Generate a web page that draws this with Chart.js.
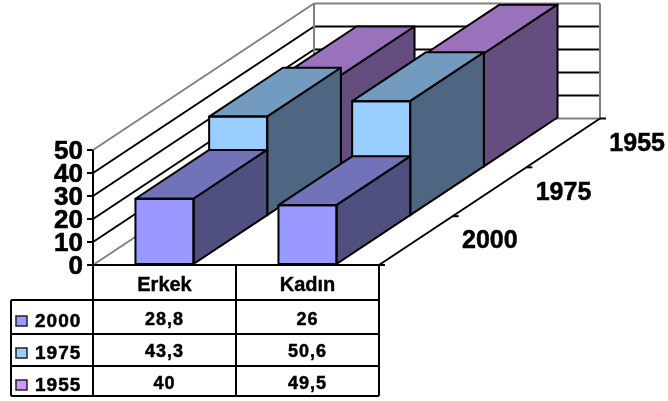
<!DOCTYPE html>
<html>
<head>
<meta charset="utf-8">
<style>
  html, body { margin: 0; padding: 0; background: #fff; }
  canvas { display: block; }
</style>
<script src="https://cdn.jsdelivr.net/npm/chart.js@4"></script>
</head>
<body>
<canvas id="chart" width="668" height="401"></canvas>
<script>
const categories = ["Erkek", "Kadın"];
const years = ["2000", "1975", "1955"];
const values2000 = [28.8, 26];
const values1975 = [43.3, 50.6];
const values1955 = [40, 49.5];
const yTicks = [0, 10, 20, 30, 40, 50];

const frontColors = ["#9999ff", "#99ccff", "#cc99ff"];
const topColors = ["#7272b9", "#729bbf", "#9a72bb"];
const sideColors = ["#4f4f80", "#4f6682", "#664d80"];

// depth of the floor, going back and to the right
const depthX = 221;
const depthY = -146.5;
const lineW = 2;
// table row bottoms, header first
const rowLines = [300, 334, 366, 396];
const rowText = [320, 352, 384];
const tableLeft = 11;

function line(ctx, x1, y1, x2, y2, color) {
  ctx.strokeStyle = color;
  ctx.beginPath();
  ctx.moveTo(x1, y1);
  ctx.lineTo(x2, y2);
  ctx.stroke();
}

function poly(ctx, pts, fill) {
  ctx.beginPath();
  pts.forEach((p, i) => (i ? ctx.lineTo(p[0], p[1]) : ctx.moveTo(p[0], p[1])));
  ctx.closePath();
  if (fill) {
    ctx.fillStyle = fill;
    ctx.fill();
  }
  ctx.strokeStyle = "#000";
  ctx.stroke();
}

// top and side faces sit behind the real bar, which is moved back by its series slot
function slot(index) {
  return [(depthX * index) / years.length, (depthY * index) / years.length];
}

function heavyText(ctx, text, x, y) {
  ctx.fillText(text, x, y);
  ctx.strokeStyle = "#000";
  ctx.lineWidth = 0.5;
  ctx.strokeText(text, x, y);
}

const walls = {
  id: "walls",
  beforeDatasetsDraw(chart) {
    const { ctx, scales } = chart;
    const { x, y } = scales;
    const gray = "#808080";
    ctx.save();
    ctx.lineWidth = lineW;
    yTicks.forEach((t) => {
      const py = y.getPixelForValue(t);
      const edge = t === 0 || t === 50;
      const c = edge ? gray : "#000";
      line(ctx, x.left, py, x.left + depthX, py + depthY, c);
      line(ctx, x.left + depthX, py + depthY, x.right + depthX, py + depthY, c);
    });
    line(ctx, x.left + depthX, y.top + depthY, x.left + depthX, y.bottom + depthY, gray);
    line(ctx, x.right + depthX, y.top + depthY, x.right + depthX, y.bottom + depthY, gray);
    // floor edge and its ticks
    line(ctx, x.right, y.bottom, x.right + depthX, y.bottom + depthY, "#000");
    for (let i = 0; i <= years.length; i++) {
      const [dx, dy] = slot(i);
      line(ctx, x.right + dx, y.bottom + dy, x.right + dx + 6, y.bottom + dy, "#000");
    }
    line(ctx, x.left, y.bottom, x.right, y.bottom, "#000");
    ctx.restore();
  },
  beforeDatasetDraw(chart, args) {
    const { ctx } = chart;
    const [dx, dy] = slot(args.index);
    ctx.save();
    ctx.translate(dx, dy);
  },
  afterDatasetDraw(chart, args) {
    const { ctx, scales } = chart;
    const [sx, sy] = slot(1);
    ctx.lineWidth = lineW;
    ctx.lineJoin = "round";
    args.meta.data.forEach((bar) => {
      const l = bar.x - bar.width / 2;
      const r = bar.x + bar.width / 2;
      const t = Math.max(bar.y, scales.y.top);
      const b = bar.base;
      poly(ctx, [[l, t], [r, t], [r + sx, t + sy], [l + sx, t + sy]], topColors[args.index]);
      poly(ctx, [[r, t], [r + sx, t + sy], [r + sx, b + sy], [r, b]], sideColors[args.index]);
      poly(ctx, [[l, t], [r, t], [r, b], [l, b]]);
    });
    ctx.restore();
  },
  afterDatasetsDraw(chart) {
    const { ctx, scales } = chart;
    const { x, y } = scales;
    ctx.save();
    ctx.fillStyle = "#000";
    ctx.textBaseline = "middle";
    ctx.textAlign = "center";
    // series labels along the floor edge
    ctx.font = "bold 25px 'Liberation Sans', Arial, sans-serif";
    years.forEach((name, i) => {
      const [dx, dy] = slot(i + 0.5);
      heavyText(ctx, name, x.right + dx + 74, y.bottom + dy + 1);
    });
    drawTable(chart);
    ctx.restore();
  },
};

function drawTable(chart) {
  const { ctx, scales } = chart;
  const { x, y } = scales;
  const mid = (x.left + x.right) / 2;
  const rows = [values2000, values1975, values1955];
  ctx.lineWidth = lineW;
  line(ctx, x.left, y.bottom, x.left, rowLines[3], "#000");
  line(ctx, mid, y.bottom, mid, rowLines[3], "#000");
  line(ctx, x.right, y.bottom, x.right, rowLines[3], "#000");
  line(ctx, tableLeft, rowLines[0], tableLeft, rowLines[3], "#000");
  rowLines.forEach((ry) => line(ctx, tableLeft, ry, x.right, ry, "#000"));

  ctx.letterSpacing = "1px";
  rows.forEach((vals, i) => {
    const cy = rowText[i];
    ctx.font = "bold 18px 'Liberation Sans', Arial, sans-serif";
    ctx.textAlign = "center";
    ctx.fillStyle = "#000";
    vals.forEach((v, c) => {
      heavyText(ctx, String(v).replace(".", ","), x.getPixelForValue(c), cy);
    });
    ctx.font = "bold 19px 'Liberation Sans', Arial, sans-serif";
    ctx.textAlign = "left";
    heavyText(ctx, years[i], 35, cy + 2);
    ctx.fillStyle = frontColors[i];
    ctx.lineWidth = 1.5;
    ctx.fillRect(16, cy - 4, 11, 10);
    ctx.strokeStyle = "#222";
    ctx.strokeRect(16, cy - 4, 11, 10);
  });
  ctx.letterSpacing = "0px";
}

new Chart(document.getElementById("chart"), {
  type: "bar",
  data: {
    labels: categories,
    datasets: years.map((name, i) => ({
      label: name,
      data: [values2000, values1975, values1955][i],
      backgroundColor: frontColors[i],
      borderWidth: 0,
      clip: 0,
    })),
  },
  options: {
    responsive: false,
    animation: false,
    layout: { padding: { top: 150, bottom: 100, left: 0, right: 289 } },
    datasets: { bar: { grouped: false, barPercentage: 0.406, categoryPercentage: 1 } },
    plugins: { legend: { display: false }, tooltip: { enabled: false } },
    scales: {
      x: {
        grid: { display: false },
        border: { display: false },
        afterFit: (s) => { s.height = 36; },
        ticks: {
          padding: 0,
          color: "#000",
          textStrokeColor: "#000",
          textStrokeWidth: 0.4,
          font: { family: "'Liberation Sans', Arial, sans-serif", size: 20, weight: "bold" },
        },
      },
      y: {
        min: 0,
        max: 50,
        afterFit: (s) => { s.width = 93; },
        grid: { drawOnChartArea: false, tickLength: 6, color: "#000", lineWidth: 2 },
        border: { color: "#000", width: 2 },
        ticks: {
          stepSize: 10,
          autoSkip: false,
          padding: 4,
          labelOffset: 2,
          color: "#000",
          textStrokeColor: "#000",
          textStrokeWidth: 0.6,
          font: { family: "'Liberation Sans', Arial, sans-serif", size: 26, weight: "bold" },
        },
      },
    },
  },
  plugins: [walls],
});
</script>
</body>
</html>
